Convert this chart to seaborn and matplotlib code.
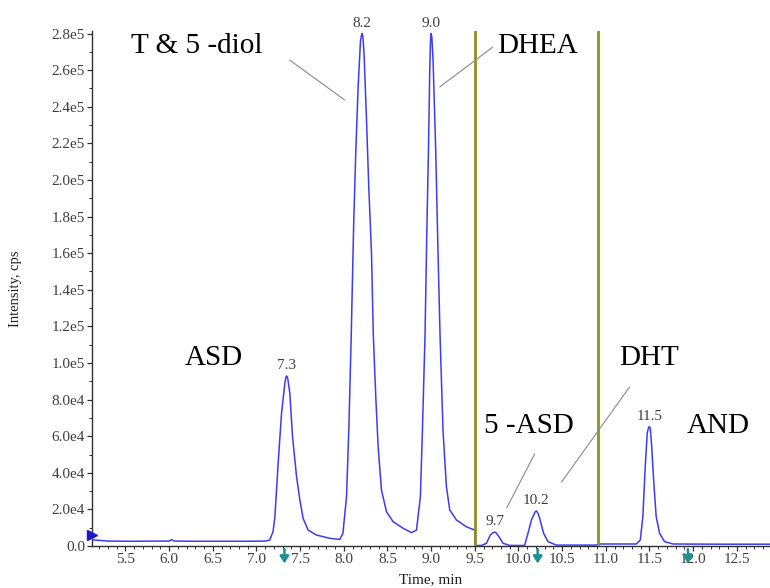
import numpy as np
import pandas as pd
import matplotlib
matplotlib.use("Agg")
import matplotlib.pyplot as plt
import matplotlib.transforms as mtransforms
from matplotlib.ticker import MultipleLocator, FixedLocator, FixedFormatter
import seaborn as sns

# ---------------- data ----------------
time_min = [5.12, 5.30, 5.60, 5.90, 6.00, 6.03, 6.06, 6.30, 6.60, 6.90, 7.10,
            7.153, 7.19, 7.211, 7.248, 7.287, 7.325, 7.336, 7.344, 7.353, 7.36,
            7.382, 7.413, 7.459, 7.497, 7.534, 7.592, 7.687, 7.84, 7.954, 7.99,
            8.031, 8.057, 8.085, 8.114, 8.137, 8.164, 8.191, 8.202, 8.21, 8.218,
            8.232, 8.26, 8.286, 8.317, 8.338, 8.366, 8.393, 8.431, 8.489, 8.564,
            8.679, 8.775, 8.832, 8.877, 8.90, 8.93, 8.953, 8.969, 8.984, 8.992,
            8.999, 9.008, 9.022, 9.053, 9.079, 9.102, 9.136, 9.175, 9.213, 9.29,
            9.404, 9.499, 9.505, 9.576, 9.633, 9.678, 9.712, 9.727, 9.742, 9.777,
            9.823, 9.90, 10.07, 10.109, 10.148, 10.19, 10.205, 10.22, 10.243,
            10.288, 10.338, 10.433, 10.89, 10.915, 11.349, 11.395, 11.424, 11.451,
            11.474, 11.49, 11.50, 11.51, 11.523, 11.55, 11.577, 11.616, 11.673,
            11.768, 12.30, 12.88]
intensity_cps = [3400, 2700, 2600, 2700, 2700, 3500, 2700, 2600, 2600, 2600, 2700,
                 3300, 8000, 16000, 45000, 72500, 88900, 92000, 92900, 92300, 91000,
                 83400, 59700, 37900, 25100, 15100, 8700, 6000, 4200, 3600, 6900,
                 27000, 63000, 115000, 178000, 215000, 251000, 276000, 279000,
                 280000, 278500, 269000, 232700, 196000, 160000, 115000, 81600,
                 54300, 30600, 18700, 13300, 9700, 7300, 8700, 27000, 63000, 115000,
                 178000, 215000, 260000, 275000, 280000, 278000, 265500, 215000,
                 160000, 115000, 63000, 32400, 19700, 14200, 10500, 8700, 300, 300,
                 1500, 6000, 7400, 7600, 7300, 5100, 1500, 300, 300, 6900, 14200,
                 18600, 19200, 18200, 15100, 6900, 2400, 500, 500, 1100, 1100, 3300,
                 16000, 43000, 61600, 64800, 65200, 64000, 56000, 34300, 16000,
                 6900, 2400, 1100, 1000, 1000]

peak_rt = [7.344, 8.21, 8.999, 9.727, 10.205, 11.50]
peak_labels = ["7.3", "8.2", "9.0", "9.7", "10.2", "11.5"]

window_bounds = [9.5, 10.91]
marker_arrow_times = [7.32, 10.22, 11.94]

compound_names = ["T & 5 -diol", "DHEA", "ASD", "DHT", "5 -ASD", "AND"]

x_tick_values = [5.5, 6.0, 6.5, 7.0, 7.5, 8.0, 8.5, 9.0, 9.5, 10.0, 10.5, 11.0,
                 11.5, 12.0, 12.5]
x_tick_labels = ["5.5", "6.0", "6.5", "7.0", "7.5", "8.0", "8.5", "9.0", "9.5",
                 "10.0", "10.5", "11.0", "11.5", "12.0", "12.5"]
y_tick_values = [0, 20000, 40000, 60000, 80000, 100000, 120000, 140000, 160000,
                 180000, 200000, 220000, 240000, 260000, 280000]
y_tick_labels = ["0.0", "2.0e4", "4.0e4", "6.0e4", "8.0e4", "1.0e5", "1.2e5",
                 "1.4e5", "1.6e5", "1.8e5", "2.0e5", "2.2e5", "2.4e5", "2.6e5",
                 "2.8e5"]

# ---------------- styling ----------------
sns.set_theme(style="ticks")
plt.rcParams["font.family"] = ["Liberation Serif", "DejaVu Serif"]

TRACE = "#3c3cf0"
OLIVE = "#8f8f23"
TEAL = "#1f8f8f"
TICKC = "#404040"

fig = plt.figure(figsize=(7.7, 5.88), dpi=100)
ax = fig.add_axes([0.1195, 0.0714, 0.8805, 0.8759])
ax.set_facecolor("white")

df = pd.DataFrame({"Time": time_min, "Intensity": intensity_cps})
sns.lineplot(data=df, x="Time", y="Intensity", ax=ax, color=TRACE,
             linewidth=1.1, estimator=None, sort=False, zorder=3)

for xv in window_bounds:
    ax.axvline(xv, color=OLIVE, lw=2.0, zorder=4)

ax.set_xlim(5.117, 12.88)
ax.set_ylim(0, 281400)

ax.xaxis.set_major_locator(FixedLocator(x_tick_values))
ax.xaxis.set_major_formatter(FixedFormatter(x_tick_labels))
ax.xaxis.set_minor_locator(MultipleLocator(0.1))
ax.yaxis.set_major_locator(FixedLocator(y_tick_values))
ax.yaxis.set_major_formatter(FixedFormatter(y_tick_labels))
ax.yaxis.set_minor_locator(MultipleLocator(10000))

for s in ["top", "right"]:
    ax.spines[s].set_visible(False)
for s in ["left", "bottom"]:
    ax.spines[s].set_color("#303030")
    ax.spines[s].set_linewidth(1.0)

ax.tick_params(axis="both", which="major", direction="out", length=3.5,
               width=0.9, color="#303030", labelsize=11, labelcolor=TICKC, pad=1.5)
ax.tick_params(axis="both", which="minor", direction="out", length=2.0,
               width=0.7, color="#303030")

ax.set_xlabel("Time, min", fontsize=11, color="#202020")
ax.xaxis.set_label_coords(0.5, -0.052)
ax.set_ylabel("Intensity, cps", fontsize=10.5, color="#202020")
ax.yaxis.set_label_coords(-0.104, 0.5)

# peak retention-time labels
t_arr = np.array(time_min)
i_arr = np.array(intensity_cps)
for rt, lab in zip(peak_rt, peak_labels):
    sel = np.abs(t_arr - rt) < 0.03
    top = i_arr[sel].max()
    ax.annotate(lab, xy=(rt, top), xytext=(0, 7.5), textcoords="offset points",
                ha="center", va="center", fontsize=11, color=TICKC,
                annotation_clip=False, zorder=6)

# compound names
name_pos = [(6.32, 269300), (10.214, 269300), (6.513, 98900), (11.49, 98900),
            (10.117, 61700), (12.29, 61700)]
for name, (tx, ty) in zip(compound_names, name_pos):
    ax.text(tx, ty, name, fontsize=21, ha="center", va="baseline",
            color="black", zorder=6)

# leader lines
leaders = [((7.381, 265500), (8.01, 243700)),
           ((9.705, 272600), (9.098, 250800)),
           ((10.185, 50300), (9.865, 20800)),
           ((11.272, 86900), (10.494, 35000))]
for (a, b) in leaders:
    ax.annotate("", xy=b, xytext=a,
                arrowprops=dict(arrowstyle="-", color="#8a8a8a", lw=0.8,
                                shrinkA=0, shrinkB=0), zorder=5)

# small marks around the axes
blend = mtransforms.blended_transform_factory(ax.transData, ax.transAxes)
for t in marker_arrow_times:
    ax.annotate("", xy=(t, -0.034), xycoords=blend, xytext=(t, -0.006),
                textcoords=blend,
                arrowprops=dict(arrowstyle="-|>,head_width=0.22,head_length=0.35",
                                color=TEAL, lw=1.8, shrinkA=0, shrinkB=0),
                annotation_clip=False)

blend_y = mtransforms.blended_transform_factory(ax.transAxes, ax.transData)
ax.plot([0.0], [6000], marker=">", markersize=7, color="#1a1acc",
        transform=blend_y, clip_on=False, zorder=7, linestyle="none")

fig.savefig("out.png", dpi=100, facecolor="white")
